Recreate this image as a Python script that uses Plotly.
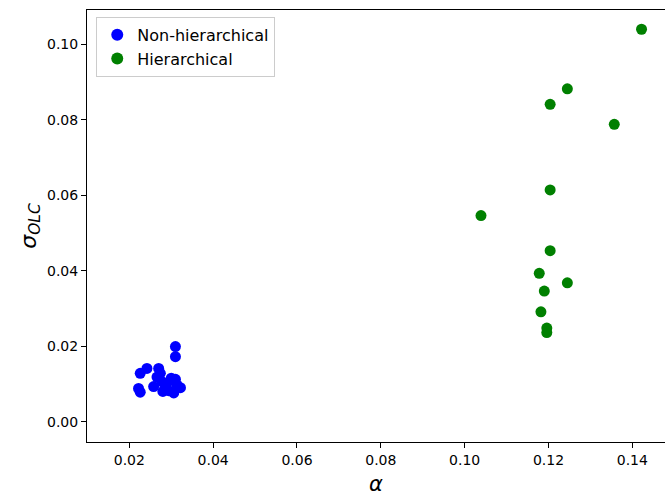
import plotly.graph_objects as go

# alpha / sigma_OLC pairs for each model family
nonhier_alpha = [0.0310, 0.0310, 0.0226, 0.0242, 0.0270, 0.0274, 0.0222, 0.0226,
                 0.0258, 0.0278, 0.0286, 0.0300, 0.0310, 0.0314, 0.0322, 0.0306,
                 0.0294, 0.0280, 0.0266, 0.0290]
nonhier_sigma = [0.0199, 0.0172, 0.0128, 0.0141, 0.0141, 0.0128, 0.0088, 0.0078,
                 0.0093, 0.0106, 0.0088, 0.0115, 0.0112, 0.0097, 0.0090, 0.0076,
                 0.0082, 0.0080, 0.0118, 0.0102]

hier_alpha = [0.1422, 0.1245, 0.1204, 0.1357, 0.1204, 0.1039, 0.1204, 0.1178,
              0.1245, 0.1190, 0.1182, 0.1196, 0.1196]
hier_sigma = [0.1040, 0.0882, 0.0841, 0.0788, 0.0614, 0.0546, 0.0453, 0.0393,
              0.0368, 0.0346, 0.0291, 0.0248, 0.0236]

x_range = [0.0099, 0.1478]
y_range = [-0.0054, 0.1091]

FONT = "DejaVu Sans"

fig = go.Figure()
fig.add_trace(go.Scatter(
    x=nonhier_alpha, y=nonhier_sigma, mode="markers", name="Non-hierarchical",
    marker=dict(color="#0000ff", size=11, line=dict(width=0)),
))
fig.add_trace(go.Scatter(
    x=hier_alpha, y=hier_sigma, mode="markers", name="Hierarchical",
    marker=dict(color="#008000", size=11, line=dict(width=0)),
))

axis_common = dict(
    showgrid=False, zeroline=False, showline=True, linecolor="black", linewidth=1,
    ticks="outside", ticklen=5, tickwidth=1, tickcolor="black",
    tickfont=dict(family=FONT, size=14, color="black"), tickformat=".2f",
)

fig.update_layout(
    width=665, height=496,
    margin=dict(l=87, r=0, t=10, b=54),
    paper_bgcolor="white", plot_bgcolor="white",
    font=dict(family=FONT, color="black"),
    xaxis=dict(range=x_range, dtick=0.02, tick0=0, mirror=True,
               title=dict(text="<i>α</i>", font=dict(family=FONT, size=21), standoff=12),
               **axis_common),
    yaxis=dict(range=y_range, dtick=0.02, tick0=0, mirror=False,
               title=dict(text="<i>σ</i><sub><i>OLC</i></sub>",
                          font=dict(family=FONT, size=22), standoff=4),
               **axis_common),
    legend=dict(x=0.016, y=0.984, xanchor="left", yanchor="top",
                bgcolor="rgba(255,255,255,0.8)", bordercolor="#cccccc", borderwidth=1,
                font=dict(family=FONT, size=16, color="black"),
                itemsizing="constant"),
    showlegend=True,
)

fig.write_html("out.html")
